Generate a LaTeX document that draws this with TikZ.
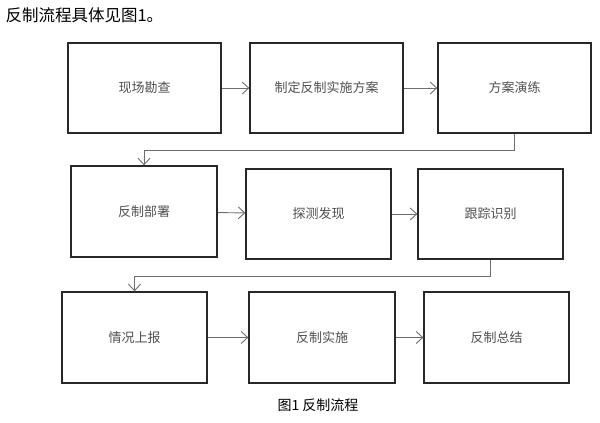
\documentclass[tikz,border=0pt]{standalone}
\usepackage{fontspec}
\newfontfamily\cjk{Noto Sans CJK SC}
\usetikzlibrary{arrows.meta}
\definecolor{frame}{RGB}{40,40,40}
\definecolor{wire}{RGB}{110,110,110}
\definecolor{label}{RGB}{80,80,80}
\tikzset{
  >={Straight Barb[length=6.5pt,width=12pt]},
  stage/.style={draw=frame,line width=1.3pt,minimum width=#1,minimum height=90pt,
    inner sep=0pt,font=\cjk\fontsize{13}{15}\selectfont,text=label},
  stage/.default=146pt,
  flow/.style={->,draw=wire,line width=0.9pt},
}
\begin{document}
\begin{tikzpicture}[x=1pt,y=-1pt]
  \useasboundingbox (0,0) rectangle (600,423);
  \node[anchor=west,font=\cjk\fontsize{16.5}{18}\selectfont] (intro) at (2,15) {反制流程具体见图1。};
  % row 1
  \node[stage=153pt] (kancha) at (144.5,88) {现场勘查};
  \node[stage=153pt] (fangan) at (326.5,88) {制定反制实施方案};
  \node[stage=153pt] (yanlian) at (514.5,88) {方案演练};
  % row 2
  \node[stage,minimum height=91pt] (bushu) at (144,211.5) {反制部署};
  \node[stage=145pt] (faxian) at (318.5,214) {探测发现};
  \node[stage=145pt] (shibie) at (490.5,214) {跟踪识别};
  % row 3
  \node[stage=145pt,minimum height=91pt] (shangbao) at (134.5,337.5) {情况上报};
  \node[stage,minimum height=91pt] (shishi) at (322,337.5) {反制实施};
  \node[stage=145pt,minimum height=91pt] (zongjie) at (496.5,337.5) {反制总结};
  \node[font=\cjk\fontsize{14}{16}\selectfont] (caption) at (318,405) {图1 反制流程};
  \draw[flow] (kancha) -- (fangan);
  \draw[flow] (fangan) -- (yanlian);
  \draw[flow] (yanlian.south) -- ++(0,17) -| (bushu.north);
  \draw[flow] (bushu) -- (faxian);
  \draw[flow] (faxian) -- (shibie);
  \draw[flow] (shibie.south) -- ++(0,17) -| (shangbao.north);
  \draw[flow] (shangbao) -- (shishi);
  \draw[flow] (shishi) -- (zongjie);
\end{tikzpicture}
\end{document}
